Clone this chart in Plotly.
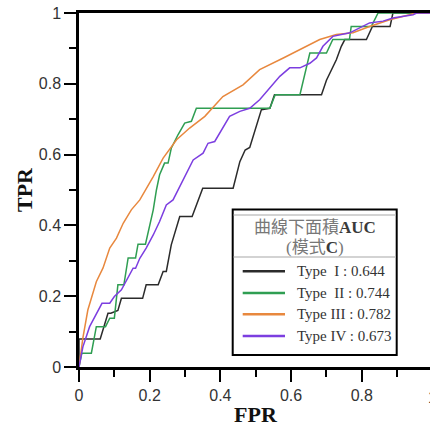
import plotly.graph_objects as go

# ---------------- data ----------------
type1_fpr = [0, 0, 0.06, 0.082, 0.09, 0.11, 0.12, 0.18, 0.19, 0.224, 0.238, 0.247, 0.261, 0.285, 0.32,
             0.35, 0.436, 0.455, 0.47, 0.483, 0.516, 0.54, 0.553, 0.686, 0.70, 0.728, 0.742, 0.752, 0.813,
             0.83, 0.88, 0.888, 1.0]
type1_tpr = [0, 0.079, 0.079, 0.152, 0.152, 0.16, 0.194, 0.194, 0.232, 0.232, 0.27, 0.27, 0.345, 0.425, 0.425,
             0.505, 0.505, 0.58, 0.613, 0.62, 0.727, 0.731, 0.769, 0.769, 0.81, 0.868, 0.906, 0.925, 0.925,
             0.962, 0.962, 1.0, 1.0]

type2_fpr = [0, 0.008, 0.035, 0.049, 0.075, 0.087, 0.10, 0.11, 0.127, 0.139, 0.16, 0.167, 0.188, 0.21, 0.219,
             0.228, 0.242, 0.252, 0.261, 0.28, 0.299, 0.318, 0.332, 0.54, 0.555, 0.625, 0.653, 0.70, 0.718,
             0.765, 0.77, 0.827, 0.846, 1.0]
type2_tpr = [0, 0.039, 0.039, 0.114, 0.114, 0.138, 0.138, 0.232, 0.232, 0.308, 0.308, 0.347, 0.347, 0.444, 0.50,
             0.543, 0.576, 0.576, 0.618, 0.656, 0.689, 0.694, 0.731, 0.731, 0.769, 0.769, 0.887, 0.887, 0.925,
             0.925, 0.962, 0.962, 1.0, 1.0]

type3_fpr = [0, 0.011, 0.025, 0.049, 0.068, 0.087, 0.106, 0.125, 0.148, 0.172, 0.21, 0.238, 0.276, 0.313,
             0.356, 0.398, 0.407, 0.464, 0.511, 0.578, 0.634, 0.681, 0.728, 0.775, 0.822, 0.879, 0.935, 0.95, 1.0]
type3_tpr = [0, 0.082, 0.161, 0.241, 0.28, 0.336, 0.364, 0.406, 0.444, 0.472, 0.538, 0.59, 0.642, 0.675,
             0.708, 0.755, 0.764, 0.797, 0.84, 0.873, 0.901, 0.925, 0.939, 0.944, 0.962, 0.981, 0.995, 1.0, 1.0]

type4_fpr = [0, 0.011, 0.03, 0.059, 0.065, 0.087, 0.10, 0.12, 0.139, 0.153, 0.16, 0.172, 0.19, 0.21, 0.228,
             0.247, 0.266, 0.285, 0.304, 0.323, 0.351, 0.365, 0.384, 0.398, 0.426, 0.455, 0.483, 0.511, 0.539,
             0.568, 0.596, 0.625, 0.653, 0.672, 0.69, 0.718, 0.766, 0.803, 0.822, 0.86, 0.888, 0.945, 0.955, 1.0]
type4_tpr = [0, 0.057, 0.114, 0.17, 0.18, 0.18, 0.199, 0.218, 0.255, 0.279, 0.279, 0.307, 0.336, 0.373, 0.411,
             0.458, 0.472, 0.51, 0.548, 0.585, 0.604, 0.632, 0.637, 0.66, 0.708, 0.722, 0.731, 0.755, 0.788,
             0.821, 0.845, 0.845, 0.858, 0.873, 0.906, 0.934, 0.944, 0.962, 0.972, 0.977, 0.986, 0.995, 1.0, 1.0]

series_names = ["Type\u00a0\u00a0I", "Type\u00a0\u00a0II", "Type III", "Type IV"]
auc_values = [0.644, 0.744, 0.782, 0.673]
tick_vals = [0, 0.2, 0.4, 0.6, 0.8, 1]
legend_title_cjk_1 = "曲線下面積"
legend_title_bold_1 = "AUC"
legend_title_cjk_2 = "(模式"
legend_title_bold_2 = "C"

# ---------------- styling ----------------
colors = ["#2b2b2b", "#2f9e52", "#e8883e", "#7c3ee0"]
W, H = 430, 428
L, R, T, B = 79, 0, 13, 61
PW, PH = W - L - R, H - T - B
X_END = PW / 353.5  # the frame continues past the right edge of the picture

def px(xp):
    return (xp - L) / PW

def py(yp):
    return (H - B - yp) / PH

fig = go.Figure()
xs = [type1_fpr, type2_fpr, type3_fpr, type4_fpr]
ys = [type1_tpr, type2_tpr, type3_tpr, type4_tpr]
for i in range(4):
    fig.add_trace(go.Scatter(x=xs[i], y=ys[i], mode="lines",
                             line=dict(color=colors[i], width=1.5),
                             name=series_names[i], showlegend=False))

tickfont = dict(family="Liberation Sans, Arial", size=16, color="#333333")
axis_common = dict(showgrid=False, zeroline=False, showline=True, linewidth=2.5, linecolor="black",
                   ticks="outside", ticklen=12, tickwidth=2, tickcolor="black",
                   tickvals=tick_vals, tickfont=tickfont,
                   minor=dict(ticks="outside", ticklen=7, tickwidth=2, tickcolor="black", dtick=0.1))

fig.update_xaxes(range=[0, X_END], mirror=True, **axis_common)
fig.update_yaxes(range=[0, 1], mirror=False, **axis_common)

shapes = []
annotations = []

# cut-off "1" tick label at the right edge
annotations.append(dict(text="1", xref="paper", yref="paper", x=1 / X_END, y=0, yshift=-20,
                        xanchor="center", yanchor="top", showarrow=False, font=tickfont))

# axis titles
title_font = dict(family="Liberation Serif, Times New Roman", size=22, color="#111111")
annotations.append(dict(text="<b>TPR</b>", xref="paper", yref="paper", x=px(24), y=py(190),
                        textangle=-90, showarrow=False, xanchor="center", yanchor="middle", font=title_font))
annotations.append(dict(text="<b>FPR</b>", xref="paper", yref="paper", x=px(256), y=py(414),
                        showarrow=False, xanchor="center", yanchor="middle", font=title_font))

# legend box
bx0, bx1, by0, by1 = 232.7, 396.7, 209.5, 355
shapes.append(dict(type="rect", xref="paper", yref="paper", x0=px(bx0), x1=px(bx1), y0=py(by1), y1=py(by0),
                   line=dict(color="black", width=2), fillcolor="white", layer="above"))
shapes.append(dict(type="line", xref="paper", yref="paper", x0=px(bx0 + 1), x1=px(bx1 - 1), y0=py(215), y1=py(215),
                   line=dict(color="#c4c4c4", width=1.5), layer="above"))
shapes.append(dict(type="line", xref="paper", yref="paper", x0=px(bx0 + 1), x1=px(bx1 - 1), y0=py(257), y1=py(257),
                   line=dict(color="#c4c4c4", width=1.5), layer="above"))

lt_font = dict(family="Liberation Serif, Noto Sans CJK TC", size=17, color="#777777")
bold_span = '<span style="color:#3a3a3a"><b>{}</b></span>'
annotations.append(dict(text=legend_title_cjk_1 + bold_span.format(legend_title_bold_1),
                        xref="paper", yref="paper", x=px(315), y=py(227),
                        showarrow=False, xanchor="center", yanchor="middle", font=lt_font))
annotations.append(dict(text=legend_title_cjk_2 + bold_span.format(legend_title_bold_2) + ")",
                        xref="paper", yref="paper", x=px(315), y=py(248),
                        showarrow=False, xanchor="center", yanchor="middle", font=lt_font))

entry_y = [271.3, 293, 314.3, 336]
entry_font = dict(family="Liberation Serif, Times New Roman", size=15, color="#333333")
for i in range(4):
    shapes.append(dict(type="line", xref="paper", yref="paper", x0=px(242.7), x1=px(285),
                       y0=py(entry_y[i]), y1=py(entry_y[i]),
                       line=dict(color=colors[i], width=2.5), layer="above"))
    annotations.append(dict(text=f"{series_names[i]} : {auc_values[i]:.3f}", xref="paper", yref="paper",
                            x=px(295), y=py(entry_y[i]), showarrow=False, xanchor="left", yanchor="middle",
                            font=entry_font))

fig.update_layout(width=W, height=H, margin=dict(l=L, r=R, t=T, b=B, pad=0),
                  paper_bgcolor="white", plot_bgcolor="white",
                  shapes=shapes, annotations=annotations, showlegend=False)

fig.write_html("out.html", config={"displayModeBar": False},
               post_script="document.body.style.margin='0';document.body.style.overflow='hidden';")
